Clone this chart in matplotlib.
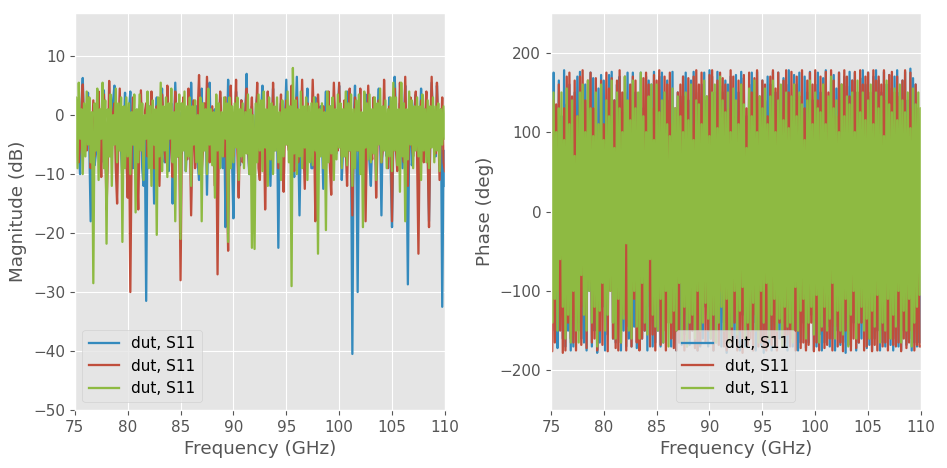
import matplotlib
matplotlib.use("Agg")
import matplotlib.pyplot as plt
import numpy as np

plt.style.use("ggplot")
plt.rcParams["xtick.labelsize"] = 11
plt.rcParams["ytick.labelsize"] = 11
plt.rcParams["axes.labelsize"] = 13.2
plt.rcParams["legend.fontsize"] = 11
# keep every zigzag of the noisy traces
plt.rcParams["path.simplify"] = False

# sweep 75-110 GHz, 0.125 GHz step
f_start, f_stop, n_pts = 75.0, 110.0, 281

labels = ["dut, S11", "dut, S11", "dut, S11"]
colors = ["#348ABD", "#C04E3C", "#8EBA42"]

mag_blue = [
    -4.0, -1.0, 2.5, -6.0, -10.0, 1.5, 6.3, -2.0, -3.5, 0.5, 3.8, -5.5, -18.0, -3.0, 1.2, -8.5, -6.5, -1.0, 3.0, -4.5,
    -8.0, 0.5, 4.2, -3.5, -13.0, -1.5, 1.0, -7.0, -2.5, 2.5, 5.0, -2.0, -7.5, -0.5, 2.0, -6.0, -11.0, -3.0, 3.8, -8.0,
    -5.0, 1.0, 4.0, -4.5, -9.0, -2.0, 0.5, -6.5, -3.0, 1.5, 2.5, -9.0, -12.0, -4.0, -31.5, -1.0, 1.5, -7.5, -6.0, -2.5,
    -15.0, -3.0, 3.0, -7.0, -4.5, 0.5, 4.5, -2.5, -8.0, -5.0, 1.0, -9.5, -2.0, 2.0, -15.0, -4.0, 5.5, -1.5, -7.0, 0.5,
    -3.0, -6.5, 2.0, -1.0, -9.5, -3.5, 3.5, -7.5, 5.5, -2.0, -5.0, 0.5, 1.5, -8.0, -11.0, -2.5, 4.5, -6.0, -2.5, 1.0,
    -13.5, -2.0, 5.5, -5.0, -4.0, 0.5, 1.0, -9.0, -7.5, -1.5, 3.0, -4.5, -9.0, 1.0, -19.0, -6.5, 6.0, -2.0, -3.0, -8.0,
    -17.5, -3.5, 4.0, -1.0, -6.0, -8.5, 2.5, -4.0, -2.0, 0.5, 7.0, -5.5, -10.0, -2.5, 1.5, -7.0, -4.5, 1.0, 3.5, -3.0,
    -8.5, 1.0, 5.0, -4.0, -3.0, -7.5, 0.5, -1.5, -12.0, -3.0, 4.5, -6.0, -5.5, 0.5, -22.5, -2.5, 2.0, -5.0, -7.0, -1.0,
    6.0, -2.5, -4.0, 0.5, 2.5, -6.5, -10.5, -1.0, 6.5, -3.5, -17.0, -4.0, 1.0, -8.0, -6.0, 0.0, 4.5, -5.5, -3.5, -9.0,
    -9.0, -1.5, 3.0, -6.0, -5.0, 0.5, 1.5, -4.0, -12.5, -2.0, 4.0, -7.0, -2.0, 1.5, -8.0, -3.5, 2.5, -1.0, -6.5, 0.5,
    5.0, -3.0, -11.0, -5.5, -2.5, 1.0, 4.0, -2.0, -6.0, -4.0, -40.5, -1.5, 5.0, -6.0, -30.0, -3.5, 1.0, -2.0, -8.0, 0.5,
    3.5, -2.5, -5.0, -8.0, -12.0, -4.0, 2.0, -6.0, -3.5, 0.5, 4.5, -3.0, -17.0, -1.0, 1.5, -5.0, -7.0, -2.0, 3.0, -9.0,
    -19.0, -4.5, 6.5, 0.5, -4.0, -7.0, 2.0, -2.5, -9.0, -1.0, 5.0, -6.0, -28.7, -3.0, 1.0, -8.5, -6.5, 1.5, 3.5, -4.0,
    -10.0, -2.0, 4.5, -6.5, -3.0, 0.5, 1.5, -4.5, -18.0, -3.0, 5.5, -1.0, -5.0, -7.0, 5.0, -2.5, -8.5, 1.0, -32.5, -6.0,
    -12.0,
]
mag_red = [
    -7.0, -2.5, 1.5, -8.0, -5.0, 0.5, 5.2, -3.5, -2.0, -6.0, 3.0, -1.0, -9.0, -4.5, 2.5, -7.0, -4.0, 1.0, 4.0, -5.0,
    -10.5, -1.5, 3.5, -4.0, -16.0, -7.5, 5.8, -2.0, -6.0, 0.5, 2.0, -9.0, -15.0, -3.0, 4.5, -5.5, -3.5, -1.0, 1.0, -6.5,
    -14.0, -3.0, -30.0, -6.0, 3.0, -1.0, -5.5, -8.5, -16.0, -2.5, 4.2, -4.0, -8.0, 0.5, 2.0, -7.0, -3.5, -1.5, 4.0, -5.0,
    -9.0, -2.0, 1.5, -5.0, -12.0, -3.5, 3.5, 0.0, -6.5, -8.0, 5.0, -1.5, -2.5, -6.0, -10.5, -3.0, 4.0, -1.0, -7.0, -4.5,
    -28.0, -4.0, 3.0, -1.5, -6.0, -7.5, 4.5, -3.0, -17.0, -5.5, 2.5, -9.0, -5.0, 0.5, 6.8, -2.5, -9.5, -6.0, 2.0, -3.5,
    6.5, -1.0, -8.0, -4.5, 1.5, -6.5, -12.0, -2.0, -27.0, -3.5, 4.0, -1.5, -5.5, -7.0, 3.0, -10.0, -23.0, -2.0, 5.0, -5.0,
    -7.0, -2.5, 6.0, -6.0, -14.0, -3.0, 2.5, -8.0, -5.0, 0.5, 4.5, -4.0, -9.5, -1.5, 3.0, -6.5, -3.5, -2.0, 5.5, -9.0,
    -11.0, -3.5, 2.0, -1.0, -16.0, -5.0, 4.0, -2.5, -6.5, -7.5, 5.5, -4.0, -3.0, 0.5, -9.0, -2.0, 3.5, -6.0, -13.0, -1.5,
    2.5, -4.5, -6.0, -2.0, 5.0, -6.5, -9.5, -1.0, 3.0, -8.0, -4.0, -3.0, 6.0, -5.0, -12.5, -2.5, 2.0, 0.5, -7.5, -3.5,
    6.0, -2.0, -18.0, -7.0, 3.5, -1.5, -5.0, -4.0, 1.5, -6.5, -9.0, -2.5, 4.0, -8.5, -13.5, -3.0, 5.5, -1.0, -4.5, -6.0,
    5.5, -3.0, -7.0, -1.5, 2.5, -5.5, -12.0, -2.0, 4.5, -7.0, -17.0, -4.0, 3.0, -1.0, -6.0, -3.5, 4.5, -6.5, -10.0, -2.5,
    -18.0, -4.0, 5.0, -2.0, -5.5, -7.5, 3.0, -1.0, -14.0, -5.0, 2.5, -3.0, -8.0, -6.0, 6.0, -2.5, -4.0, -9.0, 1.5, -3.5,
    -18.0, -2.0, 4.5, -6.0, -9.5, -3.5, 5.5, -1.0, -6.0, -8.0, 6.5, -4.5, -12.0, -2.5, 3.0, -5.0, -7.0, -1.5, 4.0, -7.0,
    -23.5, -3.0, 2.5, -5.5, -8.0, -1.0, 4.0, -7.0, -19.0, -2.5, 6.5, -4.0, -5.0, -6.5, 5.5, -2.0, -11.0, -3.5, 3.0, -8.0,
    -9.5,
]
mag_green = [
    -6.0, 3.0, -9.0, 5.5, -4.0, 1.0, -10.0, 2.0, -7.0, 4.0, -5.0, 3.0, -8.0, 0.5, -28.5, 2.0, -6.0, 4.5, -11.0, 1.0,
    -4.0, 5.5, -9.0, 2.5, -21.8, 1.0, -7.0, 3.5, -12.0, 0.0, -5.0, 4.5, -8.0, 2.0, -6.0, 3.0, -21.5, 1.5, -9.0, 3.0,
    -7.0, 2.0, -10.0, 0.5, -5.0, 3.5, -16.5, 1.0, -8.0, 3.5, -6.0, 2.0, -11.0, 0.0, -4.0, 4.0, -9.0, 1.5, -12.0, 2.5,
    -5.0, 1.0, -20.3, 3.0, -7.0, 5.5, -9.5, 1.5, -6.0, 3.0, -10.5, 2.0, -4.0, 4.5, -8.0, 0.5, -18.0, 2.0, -7.0, 3.5,
    -21.0, 2.0, -6.0, 4.0, -9.5, 1.5, -7.0, 3.0, -12.0, 1.5, -5.0, 2.5, -8.0, 0.0, -10.0, 3.0, -18.0, 2.0, -6.0, 1.0,
    -10.0, 4.5, -5.0, 1.0, -8.5, 0.5, -14.0, 3.5, -6.0, 2.0, -9.0, 0.5, -7.0, 3.0, -4.0, 2.0, -21.5, 3.0, -9.0, 1.5,
    -8.0, 2.0, -5.5, 3.0, -11.0, 1.0, -7.0, 2.0, -9.0, 0.5, -6.5, 3.5, -10.0, 1.0, -22.5, 0.0, -22.7, 2.0, -8.0, 3.5,
    -6.0, 2.5, -9.5, 4.0, -5.5, 1.0, -12.0, 3.0, -7.5, 2.0, -10.0, 1.5, -6.0, 3.0, -8.0, 0.5, -11.0, 2.5, -7.0, 1.0,
    -5.0, 4.0, -8.0, 1.5, -29.0, 8.0, -6.5, 2.5, -10.0, 1.0, -7.0, 4.0, -9.0, 1.5, -5.5, 3.0, -11.0, 1.5, -8.0, 2.0,
    -8.5, 3.0, -6.0, 2.0, -23.5, 1.0, -7.0, 2.0, -9.0, 0.5, -19.5, 4.0, -8.0, 1.5, -6.5, 3.0, -11.0, 1.0, -7.5, 3.5,
    -5.5, 2.0, -9.0, 1.0, -7.0, 4.0, -8.5, 2.0, -6.0, 3.5, -12.0, 1.0, -9.0, 2.5, -6.0, 3.5, -10.0, 0.5, -19.0, 4.0,
    -5.5, 2.0, -7.5, 3.5, -8.0, 1.0, -6.5, 3.0, -11.0, 2.0, -5.0, 4.5, -8.0, 1.5, -6.0, 2.5, -9.0, 1.0, -7.0, 3.0,
    -9.5, 5.5, -6.0, 3.0, -8.5, 1.0, -13.0, 5.5, -7.0, 2.0, -18.0, 1.0, -7.5, 4.0, -5.0, 2.5, -9.0, 1.5, -6.0, 3.0,
    -7.0, 1.5, -11.0, 3.5, -6.0, 1.0, -8.0, 2.5, -9.0, 1.5, -5.5, 3.0, -8.0, 1.5, -6.0, 2.0, -9.5, 1.0, -5.0, 1.5,
    -4.0,
]

ph_blue = [
    118, -60, 175, -150, 40, -172, 165, -95, 120, -160, 178, -170, 135, -150, 160, -175, 80, -170, 150, -130,
    170, -140, 176, -160, 100, -165, 160, -175, 130, -100, 175, -170, 168, -150, 60, -178, 155, -165, 172, -120,
    165, -175, 130, -155, 172, -90, 176, -160, 140, -165, 160, -30, 170, -175, 125, -150, 150, -170, 175, -160,
    140, -170, 175, -145, 150, -172, 110, -168, 175, -160, 130, -150, 170, -175, 165, -120, 160, -170, 176, -165,
    130, -150, 170, -170, 175, -165, 150, -135, 165, -80, 140, -170, 176, -160, 115, -175, 150, -165, 145, -168,
    170, -155, 175, -170, 140, -168, 165, -150, 176, -100, 137, -175, 150, -170, 160, -160, 175, -120, 110, -170,
    178, -150, 170, -175, 140, -165, 176, -110, 158, -170, 150, -140, 165, -178, 160, -150, 170, -165, 85, -160,
    172, -165, 150, -175, 176, -130, 168, -170, 120, -165, 160, -150, 175, -140, 150, -175, 176, -160, 98, -168,
    165, -178, 140, -150, 170, -165, 160, -175, 176, -120, 150, -168, 175, -160, 130, -170, 168, -140, 160, -175,
    178, -160, 145, -170, 172, -150, 160, -175, 175, -165, 130, -140, 170, -172, 150, -165, 176, -130, 140, -175,
    160, -170, 175, -155, 150, -175, 168, -165, 178, -145, 120, -170, 165, -160, 172, -175, 155, -150, 175, -168,
    140, -165, 170, -178, 158, -150, 176, -170, 165, -140, 175, -175, 150, -165, 168, -160, 178, -150, 160, -172,
    175, -168, 145, -175, 170, -160, 178, -150, 165, -175, 150, -165, 176, -170, 160, -140, 172, -168, 155, -175,
    170, -160, 178, -170, 150, -175, 165, -150, 176, -168, 140, -160, 180, -175, 168, -165, 160, -170, 98, -165,
    -60,
]
ph_red = [
    100, -176, 140, -165, 135, -100, 160, -150, 95, -178, 130, -175, 170, -140, 175, -160, 145, -165, 165, -175,
    120, -150, 170, -168, 178, -120, 140, -172, 165, -90, 175, -165, 130, -160, 168, -175, 60, -150, 165, -168,
    110, -120, 175, -176, 155, -100, 168, -160, 140, -172, 165, -175, 178, -165, 150, -130, 170, -175, 90, -145,
    160, -170, 170, -110, 165, -165, 60, -175, 150, -160, 168, -150, 175, -100, 160, -170, 130, -155, 172, -175,
    165, -120, 178, -168, 125, -150, 170, -175, 160, -140, 175, -160, 110, -172, 130, -175, 150, -165, 160, -90,
    170, -175, 145, -130, 168, -160, 110, -150, 170, -172, 178, -175, 160, -168, 175, -120, 140, -165, 145, -150,
    172, -160, 178, -175, 150, -120, 165, -168, 175, -100, 168, -170, 160, -175, 130, -155, 178, -165, 170, -140,
    120, -175, 165, -150, 160, -178, 172, -145, 130, -168, 175, -160, 150, -175, 168, -130, 178, -170, 145, -165,
    165, -172, 160, -175, 120, -150, 170, -168, 178, -160, 155, -175, 175, -140, 140, -170, 165, -165, 178, -155,
    150, -170, 176, -160, 160, -175, 170, -150, 145, -172, 178, -165, 130, -175, 165, -168, 175, -140, 160, -176,
    178, -165, 140, -175, 170, -150, 160, -172, 176, -168, 150, -160, 178, -175, 165, -145, 120, -170, 175, -165,
    160, -176, 178, -150, 170, -168, 145, -175, 165, -160, 176, -172, 150, -165, 178, -140, 160, -175, 170, -170,
    175, -160, 150, -176, 178, -168, 165, -175, 170, -150, 160, -170, 178, -165, 140, -175, 172, -160, 176, -168,
    150, -170, 170, -165, 145, -176, 165, -160, 178, -172, 120, -165, 175, -150, 130, -175, 160, -168, 130, -170,
    -170,
]
ph_green = [
    60, -140, 150, -110, 100, -150, 130, -60, 150, -120, 90, -160, 155, -130, 110, -165, 140, -100, 70, -150,
    120, -165, 150, -80, 160, -130, 100, -150, 165, -100, 130, -140, 95, -120, 150, -170, 110, -125, 160, -90,
    90, -150, 140, -130, 120, -100, 165, -140, 80, -160, 150, -110, 130, -165, 100, -135, 170, -40, 140, -150,
    115, -160, 165, -100, 130, -145, 150, -160, 175, -90, 120, -140, 100, -155, 145, -60, 160, -130, 90, -145,
    160, -150, 125, -110, 140, -165, 150, -100, 110, -170, 95, -140, 155, -125, 130, -150, 145, -90, 120, -165,
    100, -120, 150, -170, 115, -140, 160, -130, 90, -160, 140, -100, 135, -150, 110, -140, 165, -115, 145, -135,
    95, -160, 150, -130, 160, -165, 105, -140, 170, -120, 140, -150, 125, -110, 150, -165, 100, -145, 155, -100,
    140, -155, 110, -125, 160, -95, 135, -160, 80, -140, 155, -150, 120, -115, 165, -150, 100, -165, 145, -100,
    130, -140, 155, -90, 110, -160, 145, -130, 165, -110, 100, -150, 140, -135, 160, -170, 115, -120, 150, -145,
    105, -140, 145, -165, 160, -95, 120, -150, 150, -125, 135, -110, 90, -160, 140, -140, 165, -120, 110, -155,
    150, -105, 130, -165, 125, -145, 160, -120, 110, -150, 145, -135, 170, -90, 130, -160, 140, -125, 100, -150,
    160, -155, 120, -110, 145, -170, 135, -130, 150, -100, 100, -160, 165, -140, 125, -120, 150, -150, 115, -135,
    140, -160, 160, -125, 110, -145, 150, -105, 130, -165, 145, -140, 95, -150, 165, -110, 135, -160, 125, -130,
    155, -145, 115, -100, 160, -165, 140, -125, 125, -150, 150, -110, 105, -170, 155, -140, 135, -120, 150, -105,
    130,
]

freq = np.linspace(f_start, f_stop, n_pts)

fig, (ax1, ax2) = plt.subplots(1, 2, figsize=(9.47, 4.68), dpi=100)
fig.subplots_adjust(left=0.079, right=0.9725, bottom=0.124, top=0.972, wspace=0.2865)

for y, c, lab in zip([mag_blue, mag_red, mag_green], colors, labels):
    ax1.plot(freq, y, color=c, lw=1.65, label=lab)
ax1.set_xlim(75, 110)
ax1.set_ylim(-50, 17.3)
ax1.set_xlabel("Frequency (GHz)")
ax1.set_ylabel("Magnitude (dB)")
ax1.legend(loc="lower left")

for y, c, lab in zip([ph_blue, ph_red, ph_green], colors, labels):
    ax2.plot(freq, y, color=c, lw=1.65, label=lab)
ax2.set_xlim(75, 110)
ax2.set_ylim(-250, 250)
ax2.set_xlabel("Frequency (GHz)")
ax2.set_ylabel("Phase (deg)")
ax2.legend(loc="lower center")

plt.savefig("out.png", dpi=100)
